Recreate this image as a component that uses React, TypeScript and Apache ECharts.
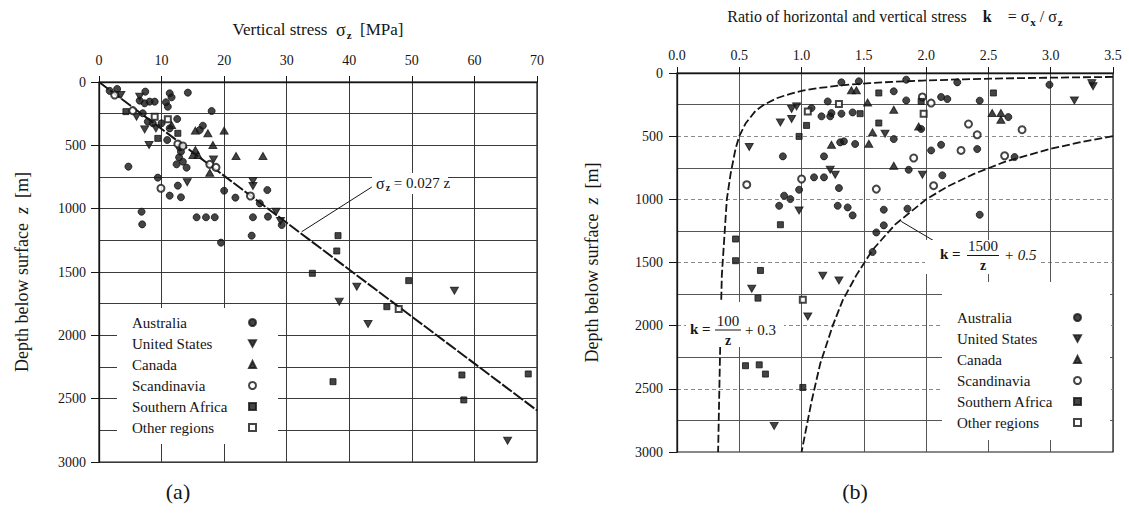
import React, { useEffect, useRef } from 'react';
import * as echarts from 'echarts';

const SERIF = '"Liberation Serif", "Times New Roman", serif';
const INK = '#151515';
const GRID_A = '#3a3a3a';
const GRID_B = '#555555';

// ---------- Chart (a): vertical stress [MPa] vs depth [m] ----------
const sigmaTicks = [0, 10, 20, 30, 40, 50, 60, 70];
const depthTicks = [0, 500, 1000, 1500, 2000, 2500, 3000];

const ausA = [
  [1.7, 70], [2.9, 55], [7.4, 76], [11.3, 89], [11.6, 121], [14.2, 84], [8.1, 155], [8.9, 155],
  [7.3, 168], [10.7, 160], [11.0, 195], [6.5, 147], [18.0, 229], [7.0, 247], [12.5, 292], [7.8, 313],
  [8.6, 326], [10.0, 326], [11.3, 366], [16.6, 345], [16.1, 379], [10.9, 458], [12.9, 516], [13.1, 550],
  [12.8, 595], [12.4, 650], [14.0, 676], [13.4, 629], [4.7, 668], [9.4, 755], [12.6, 818], [11.3, 897],
  [13.1, 910], [20.0, 858], [21.8, 913], [26.9, 853], [25.7, 958], [6.8, 1024], [6.9, 1124], [15.6, 1068],
  [17.1, 1068], [18.5, 1068], [24.6, 1068], [27.0, 1063], [29.2, 1129], [24.4, 1213], [19.5, 1268],
];
const usA = [
  [3.5, 103], [6.5, 116], [6.0, 274], [7.3, 374], [9.1, 366], [8.0, 497], [18.3, 611], [14.1, 792],
  [24.6, 781], [24.6, 821], [28.3, 1024], [29.0, 1097], [41.2, 1616], [38.4, 1734], [43.0, 1911],
  [56.8, 1647], [65.3, 2832],
];
const caA = [
  [11.6, 339], [15.4, 384], [17.4, 405], [20.0, 384], [18.2, 497], [15.4, 537], [15.0, 576], [15.8, 576],
  [17.7, 716], [21.9, 584], [26.2, 584],
];
const scA = [
  [2.5, 103], [5.4, 226], [12.6, 489], [13.4, 505], [17.7, 650], [18.7, 674], [9.9, 839], [24.2, 900],
];
const saA = [
  [4.3, 234], [12.6, 405], [9.4, 445], [38.2, 1213], [38.0, 1334], [34.1, 1510], [49.5, 1568], [46.0, 1774],
  [37.4, 2366], [58.0, 2313], [68.6, 2305], [58.3, 2510],
];
const otA = [[8.9, 274], [11.0, 295], [47.9, 1792]];

// sigma_z = 0.027 z, read at its two ends
const trendSigma = [0, 70];
const trendDepth = [0, 2593];
const leaderA = [[32.4, 1182], [43.6, 829]];

// ---------- Chart (b): k = sigma_x / sigma_z vs depth [m] ----------
const kTicks = [0, 0.5, 1.0, 1.5, 2.0, 2.5, 3.0, 3.5];

const ausB = [
  [1.32, 74], [1.46, 66], [1.74, 145], [1.84, 53], [1.84, 217], [1.08, 277], [1.21, 225], [1.16, 343],
  [1.23, 343], [1.24, 317], [1.32, 322], [1.41, 312], [1.43, 562], [1.31, 549], [1.34, 541], [1.74, 523],
  [0.85, 660], [1.18, 660], [1.10, 826], [1.18, 826], [1.30, 911], [0.98, 924], [0.86, 971], [0.91, 998],
  [0.82, 1051], [1.29, 1051], [1.37, 1064], [1.41, 1127], [1.66, 1082], [1.85, 1074], [1.86, 766],
  [1.60, 1262], [1.66, 1206], [1.57, 1417], [2.25, 74], [2.99, 93], [2.12, 190], [2.17, 206], [2.43, 219],
  [1.96, 443], [2.66, 349], [2.04, 613], [2.12, 568], [2.41, 602], [2.71, 665], [2.13, 810], [2.43, 1122],
];
const usB = [
  [0.83, 391], [0.92, 364], [0.92, 285], [0.96, 264], [0.58, 586], [1.23, 766], [1.27, 805], [0.98, 1088],
  [1.67, 481], [1.17, 1605], [1.30, 1642], [0.60, 1708], [1.05, 1927], [0.78, 2793], [3.33, 80], [3.34, 105],
  [3.19, 217], [1.97, 805],
];
const caB = [
  [1.40, 137], [1.44, 137], [1.53, 233], [1.74, 291], [1.24, 568], [1.54, 560], [1.57, 470], [1.74, 734],
  [1.94, 423], [2.53, 317], [2.60, 317], [2.60, 370],
];
const scB = [
  [0.56, 884], [1.00, 839], [1.60, 919], [1.90, 673], [1.97, 190], [2.04, 238], [2.34, 404], [2.41, 489],
  [2.77, 449], [2.28, 613], [2.63, 655], [2.06, 892],
];
const saB = [
  [1.62, 158], [1.04, 415], [0.98, 502], [1.62, 396], [1.47, 322], [0.83, 1201], [0.47, 1314], [0.47, 1486],
  [0.67, 1563], [0.65, 1782], [0.55, 2317], [0.66, 2310], [0.71, 2383], [1.01, 2489], [2.54, 158], [1.96, 225],
];
const otB = [[1.30, 246], [1.05, 304], [1.01, 1795], [1.98, 322]];

// k = 100/z + 0.3
const curve1Depth = [31, 35, 40, 45, 50, 60, 70, 80, 90, 100, 120, 140, 160, 180, 200, 250, 300, 350, 400, 500, 600, 800, 1000, 1300, 1600, 2000, 2500, 3000];
const curve1K = [3.5, 3.16, 2.8, 2.52, 2.3, 1.97, 1.73, 1.55, 1.41, 1.3, 1.13, 1.01, 0.93, 0.86, 0.8, 0.7, 0.63, 0.59, 0.55, 0.5, 0.47, 0.43, 0.4, 0.38, 0.36, 0.35, 0.34, 0.33];
// k = 1500/z + 0.5
const curve2Depth = [500, 550, 600, 700, 800, 900, 1000, 1200, 1400, 1600, 1800, 2000, 2300, 2600, 3000];
const curve2K = [3.5, 3.23, 3.0, 2.64, 2.38, 2.17, 2.0, 1.75, 1.57, 1.44, 1.33, 1.25, 1.15, 1.08, 1.0];
const leaderB = [[1.80, 1175], [2.07, 1333]];

const regions = ['Australia', 'United States', 'Canada', 'Scandinavia', 'Southern Africa', 'Other regions'];

const DOWN_TRI = 'path://M0,0 L10,0 L5,9 Z';
const markers: Record<string, any> = {
  'Australia': { symbol: 'circle', symbolSize: 7 },
  'United States': { symbol: DOWN_TRI, symbolSize: [8, 7] },
  'Canada': { symbol: 'triangle', symbolSize: [8, 7] },
  'Scandinavia': { symbol: 'emptyCircle', symbolSize: 7 },
  'Southern Africa': { symbol: 'rect', symbolSize: 6 },
  'Other regions': { symbol: 'emptyRect', symbolSize: 6 },
};

function scatter(name: string, data: number[][], idx: number) {
  return {
    type: 'scatter',
    name,
    xAxisIndex: idx,
    yAxisIndex: idx,
    data,
    z: 5,
    ...markers[name],
    itemStyle: { color: INK, borderColor: INK, borderWidth: 1 },
  };
}

function lineSeries(data: number[][], idx: number, style: any) {
  return {
    type: 'line',
    xAxisIndex: idx,
    yAxisIndex: idx,
    data,
    showSymbol: false,
    symbol: 'none',
    silent: true,
    z: 3,
    lineStyle: style,
  };
}

const labelFont = { fontFamily: SERIF, fontSize: 14, color: INK };

function txt(text: string, x: number, y: number, size: number, align = 'left', extra: any = {}) {
  return {
    type: 'text',
    x,
    y,
    z: 120,
    style: {
      text,
      fill: INK,
      fontFamily: SERIF,
      fontSize: size,
      align,
      textAlign: align,
      verticalAlign: 'middle',
      textVerticalAlign: 'middle',
      ...extra,
    },
  };
}

function legend(left: number, top: number, padding: number[]) {
  return {
    orient: 'vertical',
    left,
    top,
    align: 'right',
    itemWidth: 7,
    itemHeight: 7,
    itemGap: 6,
    padding,
    backgroundColor: '#ffffff',
    selectedMode: false,
    data: regions,
    formatter: (name: string) => `{n|${name}}`,
    textStyle: {
      fontFamily: SERIF, fontSize: 15, color: INK,
      rich: { n: { width: 112, align: 'left', fontFamily: SERIF, fontSize: 15, color: INK, lineHeight: 16 } },
    },
    z: 20,
  };
}

const yName = '{t|Depth below surface  }{i|z}{t|  [m]}';
const yNameStyle = {
  rich: {
    t: { fontFamily: SERIF, fontSize: 18, color: INK },
    i: { fontFamily: SERIF, fontSize: 18, color: INK, fontStyle: 'italic' },
  },
};

const option: any = {
  animation: false,
  backgroundColor: '#ffffff',
  grid: [
    { left: 99, top: 82, width: 438, height: 380, show: true, borderColor: INK, borderWidth: 1.2 },
    { left: 677, top: 73, width: 436, height: 379, show: true, borderColor: INK, borderWidth: 1.2 },
  ],
  xAxis: [
    {
      gridIndex: 0, type: 'value', position: 'top', min: sigmaTicks[0], max: sigmaTicks[sigmaTicks.length - 1], interval: 10,
      name: '{t|Vertical stress  }{s|σ}{sub|z}{t|  [MPa]}', nameLocation: 'middle', nameGap: 42,
      nameTextStyle: {
        rich: {
          t: { fontFamily: SERIF, fontSize: 17, color: INK },
          s: { fontFamily: SERIF, fontSize: 18, color: INK },
          sub: { fontFamily: SERIF, fontSize: 11, color: INK, fontWeight: 'bold', padding: [10, 0, 0, 1] },
        },
      },
      axisLine: { show: true, onZero: false, lineStyle: { color: INK, width: 1.3 } },
      axisTick: { show: true, length: 6, lineStyle: { color: INK } },
      axisLabel: { margin: 15, ...labelFont },
      splitLine: { show: true, lineStyle: { color: GRID_A, width: 1 } },
    },
    {
      gridIndex: 1, type: 'value', position: 'top', min: kTicks[0], max: kTicks[kTicks.length - 1], interval: 0.5,
      name: '{t|Ratio of horizontal and vertical stress    }{b|k}{t|    = σ}{sub|x}{t| / σ}{sub|z}',
      nameLocation: 'middle', nameGap: 46,
      nameTextStyle: {
        rich: {
          t: { fontFamily: SERIF, fontSize: 16, color: INK },
          b: { fontFamily: SERIF, fontSize: 16, color: INK, fontWeight: 'bold' },
          sub: { fontFamily: SERIF, fontSize: 11, color: INK, fontWeight: 'bold', padding: [10, 0, 0, 1] },
        },
      },
      axisLine: { show: true, onZero: false, lineStyle: { color: INK, width: 1.3 } },
      axisTick: { show: true, length: 6, lineStyle: { color: INK } },
      axisLabel: { margin: 11, ...labelFont, formatter: (v: number) => v.toFixed(1) },
      splitLine: { show: true, lineStyle: { color: GRID_B, width: 1 } },
    },
  ],
  yAxis: [
    {
      gridIndex: 0, type: 'value', inverse: true, min: depthTicks[0], max: depthTicks[depthTicks.length - 1], interval: 500,
      name: yName, nameLocation: 'middle', nameGap: 68, nameRotate: 90, nameTextStyle: yNameStyle,
      axisLine: { show: true, onZero: false, lineStyle: { color: INK, width: 1.3 } },
      axisTick: { show: true, length: 8, lineStyle: { color: INK } },
      axisLabel: { margin: 13, ...labelFont, formatter: (v: number) => String(v) },
      splitLine: { show: true, lineStyle: { color: GRID_A, width: 1 } },
      minorTick: { show: false, splitNumber: 2 },
      minorSplitLine: { show: true, lineStyle: { color: GRID_A, width: 1 } },
    },
    {
      gridIndex: 1, type: 'value', inverse: true, min: depthTicks[0], max: depthTicks[depthTicks.length - 1], interval: 500,
      name: yName, nameLocation: 'middle', nameGap: 76, nameRotate: 90, nameTextStyle: yNameStyle,
      axisLine: { show: true, onZero: false, lineStyle: { color: INK, width: 1.3 } },
      axisTick: { show: true, length: 8, lineStyle: { color: INK } },
      axisLabel: { margin: 14, ...labelFont, formatter: (v: number) => String(v) },
      splitLine: { show: true, lineStyle: { color: '#8a8a8a', width: 1, type: [4, 3] } },
      minorTick: { show: false, splitNumber: 2 },
      minorSplitLine: { show: true, lineStyle: { color: GRID_B, width: 1 } },
    },
  ],
  legend: [legend(117, 308, [7, 21, 9, 15]), legend(942, 282, [28, 28, 10, 15])],
  series: [
    lineSeries(trendSigma.map((s, i) => [s, trendDepth[i]]), 0, { color: INK, width: 2, type: [12, 2] }),
    lineSeries(leaderA, 0, { color: INK, width: 1 }),
    lineSeries(curve1Depth.map((z, i) => [curve1K[i], z]), 1, { color: INK, width: 1.8, type: [8, 3] }),
    lineSeries(curve2Depth.map((z, i) => [curve2K[i], z]), 1, { color: INK, width: 1.8, type: [8, 3] }),
    lineSeries(leaderB, 1, { color: INK, width: 1 }),
    scatter('Australia', ausA, 0),
    scatter('United States', usA, 0),
    scatter('Canada', caA, 0),
    scatter('Scandinavia', scA, 0),
    scatter('Southern Africa', saA, 0),
    scatter('Other regions', otA, 0),
    scatter('Australia', ausB, 1),
    scatter('United States', usB, 1),
    scatter('Canada', caB, 1),
    scatter('Scandinavia', scB, 1),
    scatter('Southern Africa', saB, 1),
    scatter('Other regions', otB, 1),
  ],
  graphic: [
    // label of the trend line in (a)
    { type: 'rect', z: 110, shape: { x: 372, y: 173, width: 76, height: 21 }, style: { fill: '#ffffff' } },
    {
      type: 'text', x: 376, y: 183, z: 120,
      style: {
        text: '{s|σ}{sub|z}{n| = 0.027 z}',
        verticalAlign: 'middle', textVerticalAlign: 'middle',
        rich: {
          s: { fontFamily: SERIF, fontSize: 16, fill: INK, color: INK },
          sub: { fontFamily: SERIF, fontSize: 10, fill: INK, color: INK, fontWeight: 'bold', padding: [9, 0, 0, 1] },
          n: { fontFamily: SERIF, fontSize: 15, fill: INK, color: INK },
        },
      },
    },
    // k = 1500/z + 0.5
    { type: 'rect', z: 110, shape: { x: 925, y: 240, width: 116, height: 34 }, style: { fill: '#ffffff' } },
    txt('k =', 940, 254, 15, 'left', { fontWeight: 'bold' }),
    txt('1500', 983, 246, 15, 'center'),
    { type: 'line', z: 120, shape: { x1: 967, y1: 255.5, x2: 999, y2: 255.5 }, style: { stroke: INK, lineWidth: 1 } },
    txt('z', 983, 265, 14, 'center', { fontWeight: 'bold' }),
    txt('+ 0.5', 1004, 255, 15, 'left', { fontStyle: 'italic' }),
    // k = 100/z + 0.3
    { type: 'rect', z: 110, shape: { x: 686, y: 302, width: 98, height: 45 }, style: { fill: '#ffffff' } },
    txt('k =', 690, 329, 15, 'left', { fontWeight: 'bold' }),
    txt('100', 728, 321, 15, 'center'),
    { type: 'line', z: 120, shape: { x1: 715, y1: 330, x2: 741, y2: 330 }, style: { stroke: INK, lineWidth: 1 } },
    txt('z', 728, 340, 14, 'center', { fontWeight: 'bold' }),
    txt('+ 0.3', 745, 330, 15, 'left'),
    // panel letters
    txt('(a)', 178, 491, 22, 'center'),
    txt('(b)', 855, 491, 22, 'center'),
  ],
};

export default function App() {
  const ref = useRef<HTMLDivElement>(null);
  useEffect(() => {
    if (!ref.current) return;
    const chart = echarts.init(ref.current, null, { renderer: 'svg' });
    chart.setOption(option);
    return () => chart.dispose();
  }, []);
  return (
    <div
      ref={ref}
      style={{ position: 'absolute', left: 0, top: 0, width: 1129, height: 517, background: '#ffffff' }}
    />
  );
}
